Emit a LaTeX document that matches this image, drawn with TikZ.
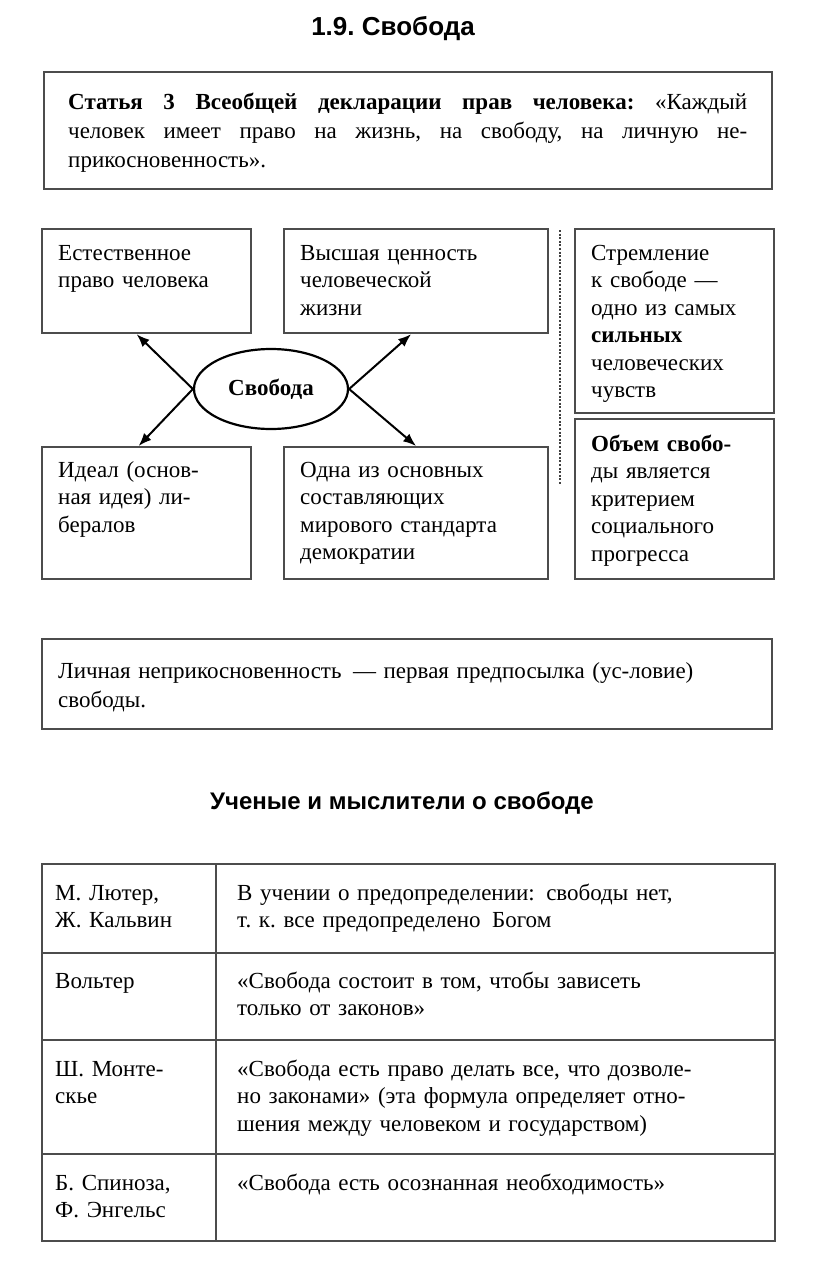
\documentclass[tikz,border=0pt]{standalone}
\usepackage{fontspec}
\setmainfont{Liberation Serif}
\newfontfamily\headfont{Liberation Sans}
\usetikzlibrary{shapes.geometric,arrows.meta}
\frenchspacing

\begin{document}
\begin{tikzpicture}[x=1pt,y=-1pt,
    box/.style={draw=black!70, line width=2.2pt, rectangle, anchor=north west, inner sep=0pt},
    txt/.style={anchor=base west, inner sep=0pt, align=left, font=\fontsize{23}{27.5}\selectfont},
    head/.style={font=\headfont\bfseries\fontsize{#1}{30}\selectfont},
    arr/.style={line width=2pt, -{Latex[length=13pt,width=10pt]}}]
  \useasboundingbox (0,0) rectangle (816,1266);
  % sizes
  \pgfmathsetmacro{\pad}{17}

  % title
  \node[head=26] (title) at (393,29) {1.9. Свобода};

  % article
  \node[box, minimum width=728pt, minimum height=117pt] (art) at (43,71) {};
  \node[txt, text width=679pt, align=justify, font=\fontsize{23}{29}\selectfont] (arttxt) at (68,109)
    {\sloppy\textbf{Статья 3 Всеобщей декларации прав человека:} «Каждый\linebreak
     человек имеет право на жизнь, на свободу, на личную не-\linebreak
     прикосновенность».};

  % boxes round the ellipse
  \node[box, minimum width=209pt, minimum height=104pt] (natur) at (41,228) {};
  \node[box, minimum width=264pt, minimum height=104pt] (value) at (283,228) {};
  \node[box, minimum width=209pt, minimum height=132pt] (ideal) at (41,446) {};
  \node[box, minimum width=264pt, minimum height=132pt] (democ) at (283,446) {};
  \node[box, minimum width=199pt, minimum height=184pt] (strive) at (574,228) {};
  \node[box, minimum width=199pt, minimum height=160pt] (volume) at (574,418) {};

  \node[ellipse, draw, line width=2.2pt, minimum width=154pt, minimum height=80pt, inner sep=0pt,
        font=\bfseries\fontsize{23}{27}\selectfont] (sv) at (271,389) {Свобода};

  % arrows
  \draw[arr] (sv.west) -- ([shift={(-10,0)}]natur.south);
  \draw[arr] (sv.east) -- ([shift={(-5,0)}]value.south);
  \draw[arr] (sv.west) -- ([shift={(-8,0)}]ideal.north);
  \draw[arr] (sv.east) -- (democ.north);

  % dotted divider
  \coordinate (dtop) at (560,230);
  \coordinate (dbot) at (560,484);
  \draw[black!75, line width=2.6pt, dash pattern=on 2pt off 1.6pt] (dtop) -- (dbot);

  % labels
  \node[txt, text width=185pt] (naturtxt) at ([shift={(\pad,32)}]natur.north west)
    {Естественное\\право человека};
  \node[txt, text width=240pt] (valuetxt) at ([shift={(\pad,32)}]value.north west)
    {Высшая ценность\\человеческой\\жизни};
  \node[txt, text width=185pt] (idealtxt) at ([shift={(\pad,31)}]ideal.north west)
    {Идеал (основ-\\ная идея) ли-\\бералов};
  \node[txt, text width=240pt] (democtxt) at ([shift={(\pad,31)}]democ.north west)
    {Одна из основных\\составляющих\\мирового стандарта\\демократии};
  \node[txt, text width=175pt] (strivetxt) at ([shift={(\pad,32)}]strive.north west)
    {Стремление\\к свободе —\\одно из самых\\\textbf{сильных}\\человеческих\\чувств};
  \node[txt, text width=175pt] (volumetxt) at ([shift={(\pad,33)}]volume.north west)
    {\textbf{Объем свобо-}\\ды является\\критерием\\социального\\прогресса};

  % condition
  \node[box, minimum width=730pt, minimum height=90pt] (cond) at (41,638) {};
  \node[txt, text width=700pt, font=\fontsize{23}{29}\selectfont] (condtxt) at ([shift={(\pad,40)}]cond.north west)
    {Личная неприкосновенность\enspace— первая предпосылка (ус-ловие)\\свободы.};

  % thinkers
  \node[head=24] (sci) at (402,803) {Ученые и мыслители о свободе};

  \foreach \nm/\top/\hgt in {luth/863/89, volt/952/87, mont/1039/114, spin/1153/87} {
    \node[box, minimum width=174pt, minimum height=\hgt*1pt] (\nm) at (41,\top) {};
    \node[box, minimum width=559pt, minimum height=\hgt*1pt] (\nm q) at (215,\top) {};
  }

  \node[txt, text width=155pt] (luthname) at ([shift={(14,37)}]luth.north west) {М. Лютер,\\Ж. Кальвин};
  \node[txt, text width=520pt] (luthtxt) at ([shift={(22,37)}]luthq.north west)
    {В учении о предопределении:\enspace свободы нет,\\т. к. все предопределено\enspace Богом};
  \node[txt, text width=155pt] (voltname) at ([shift={(14,36)}]volt.north west) {Вольтер};
  \node[txt, text width=520pt] (volttxt) at ([shift={(22,36)}]voltq.north west)
    {«Свобода состоит в том, чтобы зависеть\\только от законов»};
  \node[txt, text width=155pt] (montname) at ([shift={(14,37)}]mont.north west) {Ш. Монте-\\скье};
  \node[txt, text width=520pt] (monttxt) at ([shift={(22,37)}]montq.north west)
    {«Свобода есть право делать все, что дозволе-\\но законами» (эта формула определяет отно-\\шения между человеком и государством)};
  \node[txt, text width=155pt] (spinname) at ([shift={(14,37)}]spin.north west) {Б. Спиноза,\\Ф. Энгельс};
  \node[txt, text width=520pt] (spintxt) at ([shift={(22,37)}]spinq.north west)
    {«Свобода есть осознанная необходимость»};
\end{tikzpicture}
\end{document}
